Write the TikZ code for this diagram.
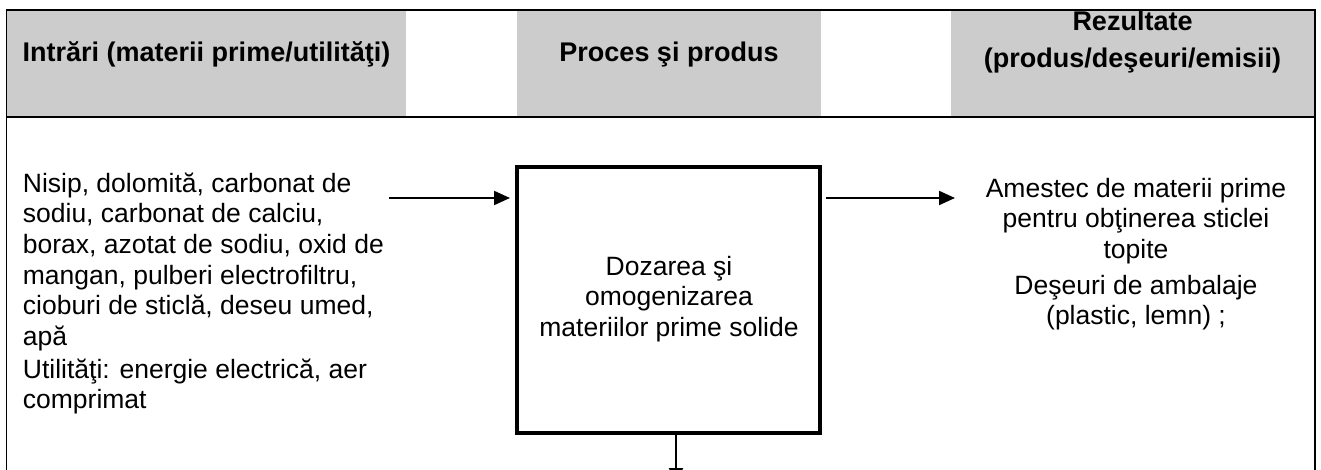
\documentclass[tikz,border=0pt]{standalone}
\usepackage{fontspec}
\setmainfont{Liberation Sans}
\usetikzlibrary{arrows.meta}
\definecolor{headgray}{RGB}{204,204,204}
% fixed first-line height so the top anchor of a text block sits a known distance above its first baseline
\newcommand{\firststrut}{\rule{0pt}{24pt}}
\begin{document}
\begin{tikzpicture}[x=1pt,y=-1pt,
  frame/.style={line width=1.5pt, line join=miter},
  headtext/.style={font=\bfseries\fontsize{27}{31}\selectfont, inner sep=0pt, anchor=base},
  bodytext/.style={font=\fontsize{26.5}{30.6}\selectfont, inner sep=0pt},
  procbox/.style={draw, line width=4pt, minimum width=303pt, minimum height=266pt, inner sep=0pt},
  flow/.style={line width=2pt, -{Triangle[length=16pt,width=14pt]}}]
\useasboundingbox (0,0) rectangle (1321,470);
\clip (0,0) rectangle (1321,470);
\fill[white] (0,0) rectangle (1321,470);

% header band
\fill[headgray] (7,10) rectangle (406,117);
\fill[headgray] (517,10) rectangle (821,117);
\fill[headgray] (951,10) rectangle (1314,117);
\draw[frame] (6.5,475) -- (6.5,10) -- (1315,10) -- (1315,475);
\draw[frame] (6.5,117) -- (1315,117);

\node[headtext] (hin) at (206.5,62) {Intrări (materii prime/utilităţi)};
\node[headtext] (hproc) at (669,62) {Proces şi produs};
\node[headtext] (hout1) at (1132.5,31) {Rezultate};
\node[headtext] (hout2) at (1132.5,68) {(produs/deşeuri/emisii)};

% process step
\node[procbox] (proc) at (668.5,300) {};
\node[bodytext, align=center, anchor=north] (proctext) at (669,251)
  {\firststrut Dozarea şi\\ omogenizarea\\ materiilor prime solide};

% inputs
\node[bodytext, align=left, anchor=north west] (inputs) at (22.7,168)
  {\firststrut Nisip, dolomită, carbonat de\\
   sodiu, carbonat de calciu,\\
   borax, azotat de sodiu, oxid de\\
   mangan, pulberi electrofiltru,\\
   cioburi de sticlă, deseu umed,\\
   apă\\[2.5pt]
   Utilităţi: energie electrică, aer\\
   comprimat};

% results
\node[bodytext, align=center, anchor=north] (results) at (1136,173)
  {\firststrut Amestec de materii prime\\
   pentru obţinerea sticlei\\
   topite\\[5pt]
   Deşeuri de ambalaje\\
   (plastic, lemn) ;};

% connectors
\coordinate (inA) at (389,198);
\coordinate (outB) at (955,198);
\coordinate (down) at (676,484);
\draw[flow, shorten >=5pt] (inA) -- (inA -| proc.west);
\draw[flow, shorten <=4pt] (proc.east |- outB) -- (outB);
\draw[flow] (proc.south -| down) -- (down);
\end{tikzpicture}
\end{document}
